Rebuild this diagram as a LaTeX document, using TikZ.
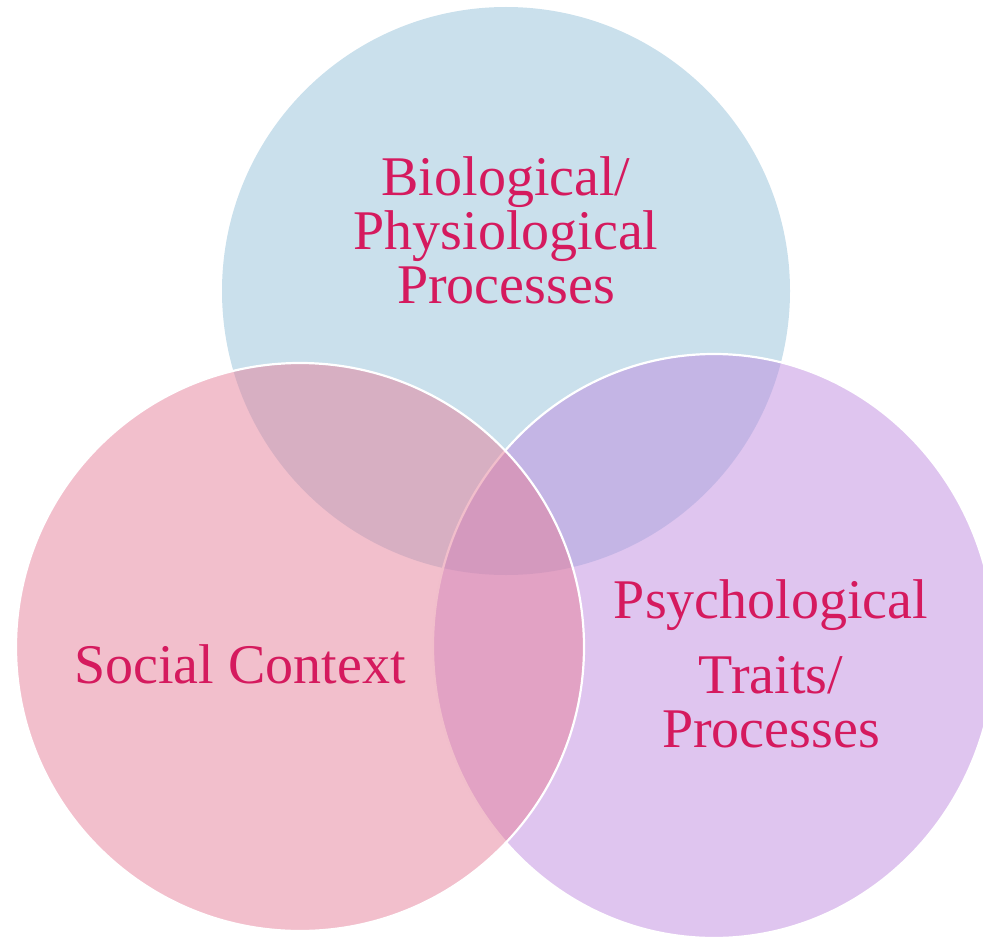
\documentclass[tikz,border=0pt]{standalone}
\usepackage{fontspec}
\setmainfont{Liberation Serif}
\usetikzlibrary{positioning}
\definecolor{bioblue}{RGB}{202,224,236}
\definecolor{psypurple}{RGB}{191,139,223}
\definecolor{socpink}{RGB}{229,127,153}
\definecolor{labelred}{RGB}{213,26,94}
\tikzset{
venn/.style={fill opacity=0.5,draw=white,line width=2.2pt},
vennlabel/.style={text=labelred,align=center,inner sep=0pt,
font=\fontsize{56}{54}\selectfont}
}

\begin{document}
\begin{tikzpicture}[x=1pt,y=-1pt]
\useasboundingbox (0,0) rectangle (983,939);
\clip (0,0) rectangle (983,939);

\fill[bioblue] (506,291) circle [radius=284];
\draw[venn,fill=psypurple] (714,646) ellipse [x radius=281,y radius=292];
\draw[venn,fill=socpink] (300,647) circle [radius=284];

\node[vennlabel,anchor=base] (bio) at (506,303) {Biological/\\Physiological\\Processes};
\node[vennlabel,anchor=base] (soc) at (240,683) {Social Context};
\node[vennlabel,anchor=base] (psy) at (771,747) {Psychological\\[21pt]Traits/\\Processes};

\end{tikzpicture}
\end{document}
